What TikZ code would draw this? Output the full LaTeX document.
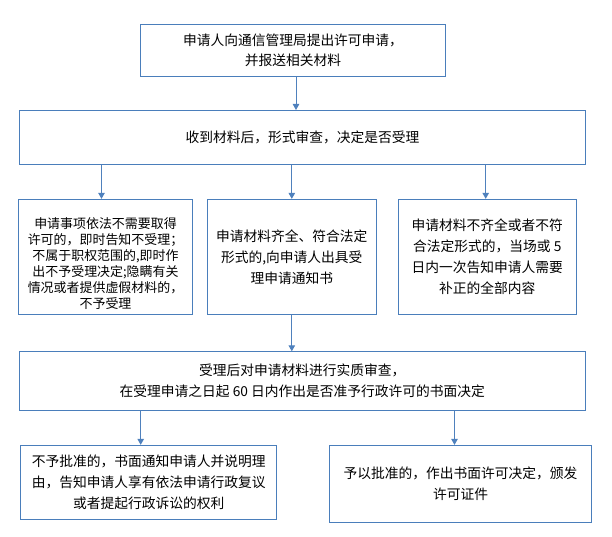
\documentclass[tikz,border=0pt]{standalone}
\usepackage{fontspec}
\setmainfont{Noto Sans CJK SC}
\usepackage{tikz}
\usetikzlibrary{arrows.meta,calc}
\usepackage{xcolor}
\definecolor{boxblue}{RGB}{74,126,187}
\definecolor{arrblue}{RGB}{79,129,189}

\begin{document}
\begin{tikzpicture}[x=1bp,y=-1bp,
	box/.style={draw=boxblue,line width=0.9bp,align=center,inner sep=0pt,font=\fontsize{13.8}{21}\selectfont},
	arr/.style={draw=arrblue,line width=1bp,-{Triangle[length=6bp,width=6.5bp]}}]
\useasboundingbox(0,0)rectangle(612,537);
\node[box,minimum width=305bp,minimum height=52bp](req)at(293,50.3){申请人向通信管理局提出许可申请，\\并报送相关材料};
\node[box,minimum width=566bp,minimum height=54.5bp](recv)at(302.5,137.7){收到材料后，形式审查，决定是否受理};
\node[box,minimum width=174bp,minimum height=115bp,font=\fontsize{13}{16}\selectfont](reject)at(105.5,256.8){\rule{0pt}{25bp}申请事项依法不需要取得\\许可的，即时告知不受理；\\不属于职权范围的,即时作\\出不予受理决定;隐瞒有关\\情况或者提供虚假材料的，\\不予受理};
\node[box,minimum width=169bp,minimum height=115bp](accept)at(291.8,256.8){申请材料齐全、符合法定\\形式的,向申请人出具受\\理申请通知书};
\node[box,minimum width=178bp,minimum height=115bp](amend)at(487.3,256.8){申请材料不齐全或者不符\\合法定形式的，当场或 5\\日内一次告知申请人需要\\补正的全部内容};
\node[box,minimum width=566bp,minimum height=58.5bp](check)at(302.3,381){受理后对申请材料进行实质审查，\\在受理申请之日起 60 日内作出是否准予行政许可的书面决定};
\node[box,minimum width=256bp,minimum height=74bp](deny)at(148.7,482.3){不予批准的，书面通知申请人并说明理\\由，告知申请人享有依法申请行政复议\\或者提起行政诉讼的权利};
\node[box,minimum width=262.4bp,minimum height=76.7bp](grant)at(460.5,483.7){予以批准的，作出书面许可决定，颁发\\许可证件};
\coordinate(a0)at([xshift=3bp]req.south);
\coordinate(a1)at([xshift=-4bp]reject.north);
\coordinate(a3)at([xshift=-1.6bp]amend.north);
\coordinate(a4)at([xshift=-8bp]deny.north);
\coordinate(a5)at([xshift=-6bp]grant.north);
\draw[arr](a0)--(a0|-recv.north);
\draw[arr](a1|-recv.south)--(a1);
\draw[arr](accept.north|-recv.south)--(accept.north);
\draw[arr](a3|-recv.south)--(a3);
\draw[arr](accept.south)--(accept.south|-check.north);
\draw[arr](a4|-check.south)--(a4);
\draw[arr](a5|-check.south)--(a5);
\end{tikzpicture}
\end{document}
